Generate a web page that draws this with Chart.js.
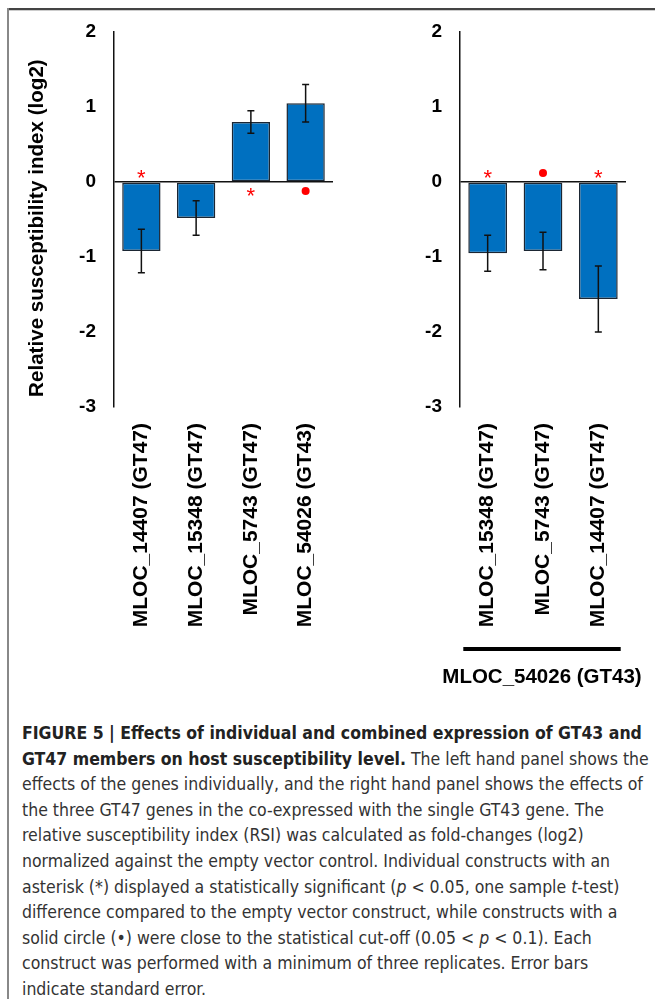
<!DOCTYPE html>
<html>
<head>
<meta charset="utf-8">
<script src="https://cdn.jsdelivr.net/npm/chart.js@4.4.1/dist/chart.umd.min.js"></script>
<style>
  body { margin: 0; background: #fff; width: 655px; height: 999px; overflow: hidden; position: relative; }
  #frameTop { position: absolute; left: 7px; top: 8px; width: 648px; height: 2px; background: #444; border-bottom: 1px solid #ccc; }
  #frameLeft { position: absolute; left: 7px; top: 8px; width: 2px; height: 991px; background: #888; }
  canvas { position: absolute; }
  #leftChart { left: 10px; top: 10px; }
  #rightChart { left: 340px; top: 10px; }
  #caption { position: absolute; left: 22px; top: 721px; width: 630px; font-family: "Liberation Sans Narrow", "DejaVu Sans Condensed", sans-serif; font-size: 17.5px; line-height: 25.6px; color: #333; }
  #caption div { white-space: nowrap; }
  #caption b { color: #222; }
</style>
</head>
<body>
<div id="frameTop"></div>
<div id="frameLeft"></div>
<canvas id="leftChart" width="340" height="690"></canvas>
<canvas id="rightChart" width="315" height="690"></canvas>
<div id="caption">
  <div><b>FIGURE 5 | Effects of individual and combined expression of GT43 and</b></div>
  <div><b>GT47 members on host susceptibility level.</b> The left hand panel shows the</div>
  <div>effects of the genes individually, and the right hand panel shows the effects of</div>
  <div>the three GT47 genes in the co-expressed with the single GT43 gene. The</div>
  <div>relative susceptibility index (RSI) was calculated as fold-changes (log2)</div>
  <div>normalized against the empty vector control. Individual constructs with an</div>
  <div>asterisk (*) displayed a statistically significant (<i>p</i> &lt; 0.05, one sample <i>t</i>-test)</div>
  <div>difference compared to the empty vector construct, while constructs with a</div>
  <div>solid circle (•) were close to the statistical cut-off (0.05 &lt; <i>p</i> &lt; 0.1). Each</div>
  <div>construct was performed with a minimum of three replicates. Error bars</div>
  <div>indicate standard error.</div>
</div>
<script>
// left panel: genes expressed individually
var leftLabels = ["MLOC_14407 (GT47)", "MLOC_15348 (GT47)", "MLOC_5743 (GT47)", "MLOC_54026 (GT43)"];
var leftValues = [-0.92, -0.48, 0.80, 1.05];
var leftErrors = [0.29, 0.23, 0.15, 0.25];
var leftMarks = ["*", "", "*", "•"];

// right panel: GT47 genes co-expressed with MLOC_54026 (GT43)
var rightLabels = ["MLOC_15348 (GT47)", "MLOC_5743 (GT47)", "MLOC_14407 (GT47)"];
var rightValues = [-0.95, -0.92, -1.56];
var rightErrors = [0.24, 0.25, 0.44];
var rightMarks = ["*", "•", "*"];
var groupLabel = "MLOC_54026 (GT43)";

var yTicks = [2, 1, 0, -1, -2, -3];

var FONT = "'Liberation Sans', Arial, sans-serif";

// error bars + significance markers
var extrasPlugin = {
  id: "extras",
  afterDatasetsDraw: function(chart, args, opts) {
    var ctx = chart.ctx;
    var y = chart.scales.y;
    var meta = chart.getDatasetMeta(0);
    var zero = y.getPixelForValue(0);
    ctx.save();
    meta.data.forEach(function(bar, i) {
      var v = opts.values[i], e = opts.errors[i];
      var top = y.getPixelForValue(v + e), bot = y.getPixelForValue(v - e);
      ctx.strokeStyle = "#111";
      ctx.lineWidth = 1.5;
      ctx.beginPath();
      ctx.moveTo(bar.x, top); ctx.lineTo(bar.x, bot);
      ctx.moveTo(bar.x - 3.5, top); ctx.lineTo(bar.x + 3.5, top);
      ctx.moveTo(bar.x - 3.5, bot); ctx.lineTo(bar.x + 3.5, bot);
      ctx.stroke();

      var m = opts.marks[i];
      var my = v < 0 ? zero - 9 : zero + 9;
      ctx.fillStyle = "#ff0000";
      if (m === "*") {
        ctx.font = "22px " + FONT;
        ctx.textAlign = "center";
        ctx.textBaseline = "alphabetic";
        ctx.fillText("*", bar.x, my + 12);
      } else if (m === "•") {
        ctx.beginPath();
        ctx.arc(bar.x, my, 4, 0, Math.PI * 2);
        ctx.fill();
      }
    });
    if (opts.group) {
      var first = meta.data[0], last = meta.data[meta.data.length - 1];
      var x0 = first.x - first.width / 2 - 5, x1 = last.x + last.width / 2 + 3;
      ctx.fillStyle = "#000";
      ctx.fillRect(x0, 637, x1 - x0, 4);
      ctx.font = "bold 20.5px " + FONT;
      ctx.textAlign = "center";
      ctx.textBaseline = "middle";
      ctx.fillText(opts.group, (x0 + x1) / 2, 667);
    }
    ctx.restore();
  }
};

function makeChart(id, labels, values, errors, marks, yWidth, padRight, showTitle, group) {
  return new Chart(document.getElementById(id), {
    type: "bar",
    data: {
      labels: labels,
      datasets: [{
        data: values,
        backgroundColor: "#0070c0",
        borderColor: "#1b2633",
        borderWidth: 1.5,
        borderSkipped: false,
        barPercentage: 0.7,
        categoryPercentage: 1.0
      }]
    },
    options: {
      responsive: false,
      animation: false,
      layout: { padding: { top: 22, right: padRight, left: 0, bottom: 0 } },
      plugins: {
        legend: { display: false },
        tooltip: { enabled: false },
        extras: { values: values, errors: errors, marks: marks, group: group }
      },
      scales: {
        x: {
          grid: { display: false, drawTicks: false },
          border: { display: false },
          ticks: {
            minRotation: 90, maxRotation: 90, padding: 16, autoSkip: false,
            color: "#000", font: { family: FONT, size: 21, weight: "bold" }
          },
          afterFit: function(s) { s.height = 690 - 397; s.paddingLeft = 0; s.paddingRight = 0; }
        },
        y: {
          min: -3, max: 2,
          afterBuildTicks: function(s) { s.ticks = yTicks.map(function(v) { return { value: v }; }); },
          grid: {
            drawTicks: false,
            lineWidth: 1.5,
            color: function(c) { return c.tick && c.tick.value === 0 ? "#111" : "rgba(0,0,0,0)"; }
          },
          border: { display: true, color: "#111", width: 1.5 },
          ticks: { padding: 18, color: "#000", font: { family: FONT, size: 19, weight: "bold" } },
          title: {
            display: showTitle,
            text: "Relative susceptibility index (log2)   ",
            color: "#000",
            padding: { top: 15, bottom: 0 },
            font: { family: FONT, size: 20.6, weight: "bold" }
          },
          afterFit: function(s) { s.width = yWidth; s.paddingTop = 0; s.paddingBottom = 0; }
        }
      }
    },
    plugins: [extrasPlugin]
  });
}

makeChart("leftChart", leftLabels, leftValues, leftErrors, leftMarks, 104, 17, true, null);
makeChart("rightChart", rightLabels, rightValues, rightErrors, rightMarks, 120, 29, false, groupLabel);
</script>
</body>
</html>
